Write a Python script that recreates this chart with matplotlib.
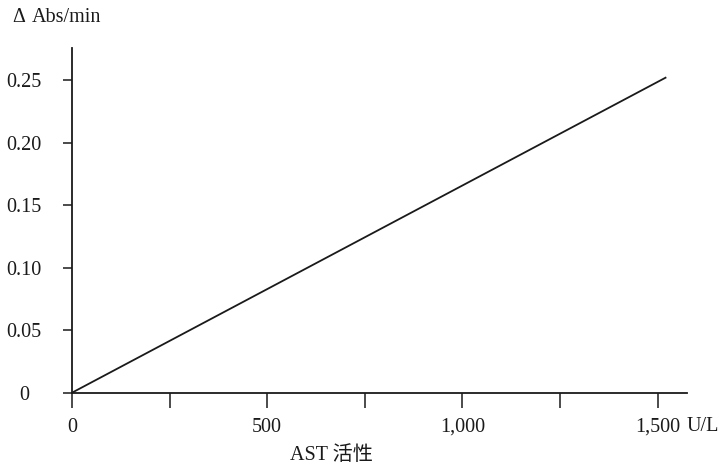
import matplotlib
matplotlib.use("Agg")
import matplotlib.pyplot as plt

# font: serif for latin, CJK fallback for the chinese label
plt.rcParams['font.family'] = ['Liberation Serif', 'Noto Sans CJK SC']

# data: straight calibration line
activity = [0, 1520]          # AST activity, U/L
delta_abs = [0, 0.252]        # delta Abs/min

xticks = [0, 250, 500, 750, 1000, 1250, 1500]
xticklabels = ['0', '', '500', '', '1,000', '', '1,500']
yticks = [0, 0.05, 0.10, 0.15, 0.20, 0.25]
yticklabels = ['0', '0.05', '0.10', '0.15', '0.20', '0.25']

fs = 14.5

fig = plt.figure(figsize=(7.22, 4.71), dpi=100)
ax = fig.add_axes([72/722, 1 - 392.7/471, (687 - 72)/722, (392.7 - 47.7)/471])

ax.plot(activity, delta_abs, color='#1a1a1a', lw=1.3)

ax.set_xlim(0, 1575)
ax.set_ylim(0, 0.276)

ax.spines['top'].set_visible(False)
ax.spines['right'].set_visible(False)
for s in ['left', 'bottom']:
    ax.spines[s].set_linewidth(1.3)
    ax.spines[s].set_color('#1a1a1a')

ax.set_xticks(xticks)
ax.set_xticklabels(xticklabels, fontsize=fs)
ax.set_yticks(yticks)
ax.set_yticklabels(yticklabels, fontsize=fs)
ax.tick_params(axis='x', direction='out', length=11, width=1.1, pad=7, colors='#1a1a1a')
ax.tick_params(axis='y', direction='out', length=6.5, width=1.1, pad=28, colors='#1a1a1a')
plt.setp(ax.get_yticklabels(), ha='center')

# unit after the last tick label
ax.annotate('U/L', xy=(1500, 0), xytext=(29, -34), textcoords='offset pixels',
            ha='left', va='center', fontsize=fs, color='#1a1a1a')

# y axis title, delta sign set a bit apart
fig.text(12/722, 1 - 18/471, 'Δ', ha='left', va='center', fontsize=fs, color='#1a1a1a')
fig.text(32/722, 1 - 18/471, 'Abs/min', ha='left', va='center', fontsize=fs, color='#1a1a1a')
fig.text(331/722, 1 - 455/471, 'AST 活性', ha='center', va='center', fontsize=fs, color='#1a1a1a')

fig.savefig('out.png', dpi=100)
